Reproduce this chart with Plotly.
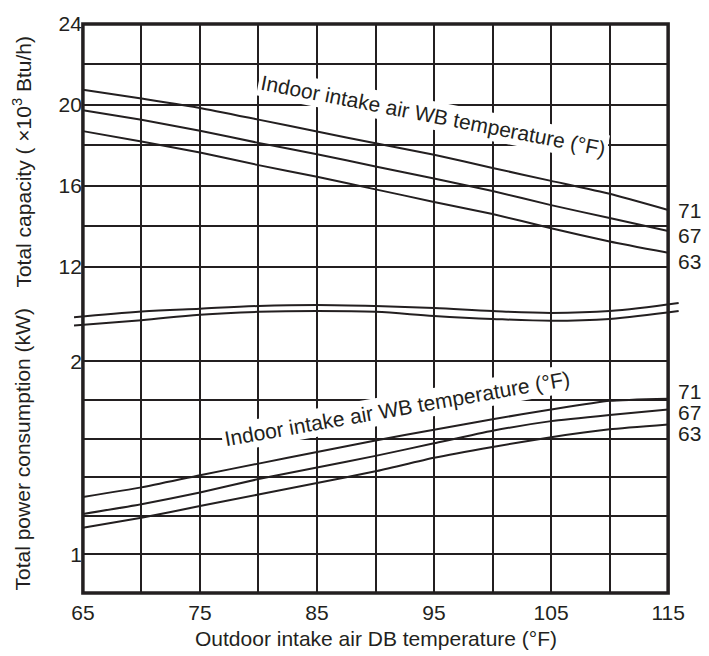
import plotly.graph_objects as go

# ---------------- data ----------------
temp_db = [65, 70, 75, 80, 85, 90, 95, 100, 105, 110, 115]

cap_71 = [20.75, 20.31, 19.85, 19.27, 18.68, 18.10, 17.53, 16.88, 16.24, 15.60, 14.80]
cap_67 = [19.73, 19.26, 18.72, 18.12, 17.56, 16.95, 16.36, 15.74, 15.04, 14.40, 13.76]
cap_63 = [18.70, 18.19, 17.64, 17.02, 16.44, 15.82, 15.20, 14.60, 13.90, 13.24, 12.68]

pow_71 = [1.297, 1.347, 1.410, 1.470, 1.530, 1.590, 1.645, 1.700, 1.750, 1.795, 1.806]
pow_67 = [1.209, 1.260, 1.320, 1.390, 1.450, 1.510, 1.575, 1.640, 1.690, 1.722, 1.750]
pow_63 = [1.138, 1.190, 1.250, 1.310, 1.370, 1.430, 1.500, 1.556, 1.607, 1.648, 1.673]

# axis-break decoration (drawn on a copy of the capacity axis)
break_x = [64.24, 70, 75, 80, 85, 90, 95, 100, 105, 110, 115.9]
break_upper = [9.50, 9.78, 9.92, 10.05, 10.10, 10.05, 9.95, 9.80, 9.71, 9.80, 10.20]
break_lower = [9.08, 9.35, 9.62, 9.76, 9.80, 9.76, 9.56, 9.41, 9.32, 9.41, 9.80]

x_ticks = [65, 75, 85, 95, 105, 115]
x_grid = [70, 80, 90, 100, 110]
cap_ticks = [12, 16, 20, 24]
cap_grid = [14, 18, 22]
pow_ticks = [1, 2]
pow_grid = [0.8, 1.2, 1.4, 1.6, 1.8]

wb_labels = ["71", "67", "63"]
cap_label_y = [14.78, 13.56, 12.29]
pow_label_y = [1.847, 1.737, 1.630]

# ---------------- style / layout ----------------
INK = "#231f20"
FONT = "Liberation Sans, Arial, Helvetica, sans-serif"
FS = 21
W, H = 709, 656
L, R, T, B = 74, 686, 16, 593        # paper area in pixels
FX0, FX1 = 83, 674                    # frame (main x-axis domain) in pixels
SPLIT = 330                           # pixel where the two y-axes meet


def px_x(p):
    return (p - L) / (R - L)


def px_y(p):
    return (B - p) / (B - T)


fig = go.Figure()

curve_line = dict(color=INK, width=2, shape="spline", smoothing=0.5)
for ys in (cap_71, cap_67, cap_63):
    fig.add_trace(go.Scatter(x=temp_db, y=ys, mode="lines", xaxis="x", yaxis="y",
                             line=curve_line, showlegend=False, hoverinfo="skip"))
for ys in (pow_71, pow_67, pow_63):
    fig.add_trace(go.Scatter(x=temp_db, y=ys, mode="lines", xaxis="x", yaxis="y2",
                             line=curve_line, showlegend=False, hoverinfo="skip"))
for ys in (break_upper, break_lower):
    fig.add_trace(go.Scatter(x=break_x, y=ys, mode="lines", xaxis="x2", yaxis="y3",
                             line=dict(color=INK, width=2, shape="spline", smoothing=1.0),
                             showlegend=False, hoverinfo="skip"))


def axis_style(major, minor_vals):
    return dict(showgrid=True, gridcolor=INK, gridwidth=2, zeroline=False, showline=False,
                ticks="", tickfont=dict(family=FONT, size=FS, color=INK),
                tickmode="array", tickvals=major, ticktext=[f"{v:g}" for v in major],
                minor=dict(tickmode="array", tickvals=minor_vals, showgrid=True,
                           gridcolor=INK, gridwidth=2, ticks=""))


xscale = (FX1 - FX0) / 50.0
cap_range = [24 - (SPLIT - 16) / 20.5, 24]
fig.update_layout(
    width=W, height=H,
    margin=dict(l=L, r=W - R, t=T, b=H - B),
    paper_bgcolor="white", plot_bgcolor="rgba(0,0,0,0)",
    font=dict(family=FONT, size=FS, color=INK),
    xaxis=dict(domain=[px_x(FX0), px_x(FX1)], range=[65, 115], anchor="y2",
               ticklabelstandoff=5, **axis_style(x_ticks, x_grid)),
    yaxis=dict(domain=[px_y(SPLIT), 1], range=cap_range, anchor="x",
               **axis_style(cap_ticks, cap_grid)),
    yaxis2=dict(domain=[0, px_y(SPLIT)], range=[0.8, 2 + (358 - SPLIT) / 195.83],
                anchor="x", **axis_style(pow_ticks, pow_grid)),
    xaxis2=dict(domain=[0, 1], range=[65 - (FX0 - L) / xscale, 115 + (R - FX1) / xscale],
                anchor="y3", visible=False, showgrid=False, zeroline=False),
    yaxis3=dict(domain=[px_y(SPLIT), 1], range=cap_range, anchor="x2",
                visible=False, showgrid=False, zeroline=False),
    shapes=[dict(type="rect", xref="paper", yref="paper", x0=px_x(FX0), x1=px_x(FX1),
                 y0=0, y1=1, line=dict(color=INK, width=3.5), layer="above")],
)

ann = []
ann.append(dict(text="Outdoor intake air DB temperature (°F)", xref="paper", yref="paper",
                x=px_x((FX0 + FX1) / 2), y=px_y(639), xanchor="center", yanchor="middle",
                showarrow=False, font=dict(size=FS)))
ann.append(dict(text="Total capacity ( ×10<sup>3</sup> Btu/h)", xref="paper", yref="paper",
                x=px_x(22), y=px_y(156), textangle=-90,
                xanchor="center", yanchor="middle", showarrow=False, font=dict(size=FS)))
ann.append(dict(text="Total power consumption (kW)", xref="paper", yref="paper",
                x=px_x(22), y=px_y(448), textangle=-90,
                xanchor="center", yanchor="middle", showarrow=False, font=dict(size=FS)))
ann.append(dict(text="Indoor intake air WB temperature (°F)", xref="x", yref="y",
                x=94.95, y=19.46, textangle=11, showarrow=False, bgcolor="white",
                borderpad=2, font=dict(size=FS)))
ann.append(dict(text="Indoor intake air WB temperature (°F)", xref="x", yref="y2",
                x=91.85, y=1.755, textangle=-10, showarrow=False, bgcolor="white",
                borderpad=2, font=dict(size=FS)))
for lab, yv in zip(wb_labels, cap_label_y):
    ann.append(dict(text=lab, xref="paper", yref="y", x=px_x(FX1), y=yv, xanchor="left",
                    xshift=8, yanchor="middle", showarrow=False, height=18,
                    font=dict(size=FS)))
for lab, yv in zip(wb_labels, pow_label_y):
    ann.append(dict(text=lab, xref="paper", yref="y2", x=px_x(FX1), y=yv, xanchor="left",
                    xshift=8, yanchor="middle", showarrow=False, height=18,
                    font=dict(size=FS)))
fig.update_layout(annotations=ann)

fig.write_html("out.html")
